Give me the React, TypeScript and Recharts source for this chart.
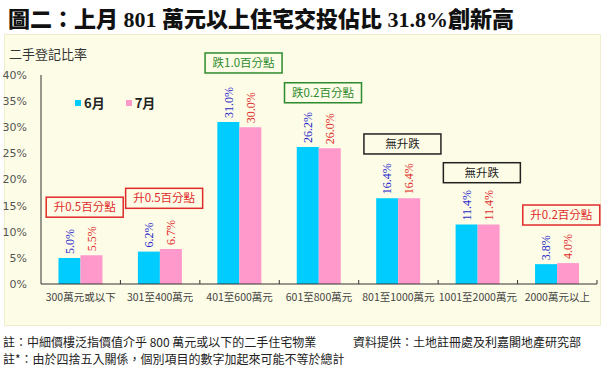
import { Bar, BarChart, LabelList, ReferenceDot, XAxis, YAxis } from "recharts";

const categories = [
  "300萬元或以下",
  "301至400萬元",
  "401至600萬元",
  "601至800萬元",
  "801至1000萬元",
  "1001至2000萬元",
  "2000萬元以上",
];
const june = [5.0, 6.2, 31.0, 26.2, 16.4, 11.4, 3.8];
const july = [5.5, 6.7, 30.0, 26.0, 16.4, 11.4, 4.0];
const yTicks = [0, 5, 10, 15, 20, 25, 30, 35, 40];
const changeNotes = ["升0.5百分點", "升0.5百分點", "跌1.0百分點", "跌0.2百分點", "無升跌", "無升跌", "升0.2百分點"];
// where each change box sits, in % units of the y axis
const noteAt = [14.7, 16.4, 42.3, 36.6, 26.8, 21.3, 13.2];

const data = categories.map((name, i) => ({ name, jun: june[i], jul: july[i] }));

const W = 608;
const H = 370;
const LEFT = 41;
const RIGHT = 11;
const PLOT_W = W - LEFT - RIGHT;
const CJK = '"Noto Sans CJK TC", "Noto Sans CJK SC", sans-serif';

const BLUE = "#00CCFF";
const PINK = "#FF99CC";

function noteColor(text: string) {
  if (text.startsWith("升")) return "#E02B2B";
  if (text.startsWith("跌")) return "#2E8B2E";
  return "#222222";
}

function XTick({ x, y, payload }: any) {
  const half = PLOT_W / categories.length / 2;
  return (
    <g>
      <line x1={x + half} x2={x + half} y1={y - 4} y2={y} stroke="#333" strokeWidth={1} />
      <text x={x} y={y + 17} textAnchor="middle" fontSize={10.5} fill="#444" fontFamily={CJK}>
        {payload.value}
      </text>
    </g>
  );
}

function valueLabel(color: string) {
  return (props: any) => {
    const cx = Number(props.x) + Number(props.width) / 2;
    const cy = Number(props.y) - 4;
    return (
      <text
        x={cx}
        y={cy}
        dy="0.35em"
        transform={`rotate(-90 ${cx} ${cy})`}
        fill={color}
        fontSize={12}
        fontFamily='"Liberation Serif", serif'
      >
        {Number(props.value).toFixed(1)}%
      </text>
    );
  };
}

function noteBox(text: string) {
  return (props: any) => {
    const cx = props.cx + 4;
    const cy = props.cy;
    const c = noteColor(text);
    return (
      <g>
        <rect x={cx - 38.5} y={cy - 10} width={77} height={20} fill="#FDFCE6" stroke={c} strokeWidth={1.5} />
        <text x={cx} y={cy} dy="0.36em" textAnchor="middle" fontSize={11.5} fill={c} fontFamily={CJK}>
          {text}
        </text>
      </g>
    );
  };
}

function LegendBox() {
  const item = (color: string, label: string) => (
    <span style={{ display: "inline-flex", alignItems: "center", marginRight: 21 }}>
      <span style={{ width: 6, height: 6, background: color, display: "inline-block", marginRight: 3 }} />
      <span style={{ fontSize: 13, color: "#222", fontWeight: 600 }}>{label}</span>
    </span>
  );
  return (
    <div style={{ position: "absolute", left: 75, top: 95, display: "flex", fontFamily: CJK, lineHeight: "16px" }}>
      {item(BLUE, "6月")}
      {item(PINK, "7月")}
    </div>
  );
}

export default function App() {
  return (
    <div style={{ position: "absolute", left: 0, top: 0, width: W, height: H, background: "#fff", fontFamily: CJK }}>
      <div
        style={{
          position: "absolute",
          left: 8,
          top: 2,
          fontSize: 22,
          fontWeight: 900,
          color: "#111",
          whiteSpace: "nowrap",
          lineHeight: "30px",
        }}
      >
        圖二：上月<span style={{ fontFamily: '"Liberation Serif", serif', fontWeight: 700 }}> 801 </span>
        萬元以上住宅交投佔比
        <span style={{ fontFamily: '"Liberation Serif", serif', fontWeight: 700 }}> 31.8%</span>創新高
      </div>

      <div
        style={{
          position: "absolute",
          left: 4,
          top: 34,
          width: 595,
          height: 290,
          background: "#FDFCE6",
          border: "1px solid #F1EDCF",
        }}
      />
      <div style={{ position: "absolute", left: 9, top: 44, fontSize: 13, color: "#333" }}>二手登記比率</div>

      <div style={{ position: "absolute", left: 0, top: 0 }}>
        <BarChart
          width={W}
          height={H}
          data={data}
          margin={{ top: 75, right: RIGHT, left: 0, bottom: 56 }}
          barGap={0}
          barCategoryGap="22%"
        >
          <XAxis
            dataKey="name"
            height={30}
            axisLine={{ stroke: "#333" }}
            tickLine={false}
            tickSize={0}
            tickMargin={0}
            interval={0}
            tick={<XTick />}
          />
          <YAxis
            width={LEFT}
            domain={[0, 40]}
            ticks={yTicks}
            interval={0}
            axisLine={{ stroke: "#333" }}
            tickLine={false}
            tickMargin={8}
            tickFormatter={(v: number) => `${v}%`}
            tick={{ fontSize: 11, fill: "#555", fontFamily: '"DejaVu Sans", sans-serif' }}
          />
          <Bar dataKey="jun" name="6月" fill={BLUE} isAnimationActive={false}>
            <LabelList dataKey="jun" content={valueLabel("#2A2ACC")} />
          </Bar>
          <Bar dataKey="jul" name="7月" fill={PINK} isAnimationActive={false}>
            <LabelList dataKey="jul" content={valueLabel("#E02B2B")} />
          </Bar>
          {categories.map((c, i) => (
            <ReferenceDot key={c} x={c} y={noteAt[i]} r={0} ifOverflow="visible" shape={noteBox(changeNotes[i])} />
          ))}
        </BarChart>
      </div>
      <LegendBox />

      <div style={{ position: "absolute", left: 3, top: 333, fontSize: 12, color: "#222", whiteSpace: "nowrap" }}>
        註：中細價樓泛指價值介乎 800 萬元或以下的二手住宅物業
      </div>
      <div style={{ position: "absolute", left: 353, top: 333, fontSize: 12, color: "#222", whiteSpace: "nowrap" }}>
        資料提供：土地註冊處及利嘉閣地產研究部
      </div>
      <div style={{ position: "absolute", left: 3, top: 350, fontSize: 12, color: "#222", whiteSpace: "nowrap" }}>
        註*：由於四捨五入關係，個別項目的數字加起來可能不等於總計
      </div>
    </div>
  );
}
